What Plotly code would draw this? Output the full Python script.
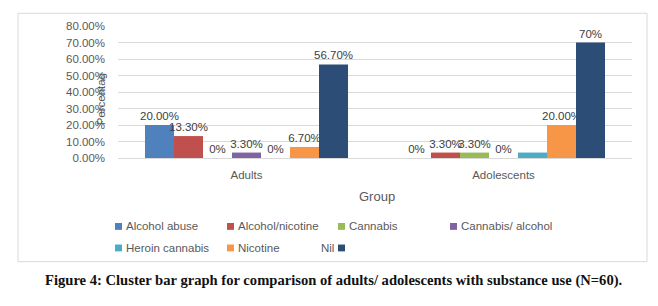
import plotly.graph_objects as go

# ---- data ----
groups = ["Adults", "Adolescents"]
series_names = ["Alcohol abuse", "Alcohol/nicotine", "Cannabis", "Cannabis/ alcohol",
                "Heroin cannabis", "Nicotine", "Nil"]
alcohol_abuse = [0.200, 0.000]
alcohol_nicotine = [0.133, 0.033]
cannabis = [0.000, 0.033]
cannabis_alcohol = [0.033, 0.000]
heroin_cannabis = [0.000, 0.033]
nicotine = [0.067, 0.200]
nil = [0.567, 0.700]

alcohol_abuse_lbl = ["20.00%", "0%"]
alcohol_nicotine_lbl = ["13.30%", "3.30%"]
cannabis_lbl = ["0%", "3.30%"]
cannabis_alcohol_lbl = ["3.30%", "0%"]
heroin_cannabis_lbl = ["0%", ""]
nicotine_lbl = ["6.70%", "20.00%"]
nil_lbl = ["56.70%", "70%"]

y_ticks = [0, 0.1, 0.2, 0.3, 0.4, 0.5, 0.6, 0.7, 0.8]

colors = ["#4F81BD", "#C0504D", "#9BBB59", "#8064A2", "#4BACC6", "#F79646", "#2C4D75"]
values = [alcohol_abuse, alcohol_nicotine, cannabis, cannabis_alcohol,
          heroin_cannabis, nicotine, nil]
labels = [alcohol_abuse_lbl, alcohol_nicotine_lbl, cannabis_lbl, cannabis_alcohol_lbl,
          heroin_cannabis_lbl, nicotine_lbl, nil_lbl]

# page offset of the plot div (default body margin)
OFF = 8
PAGE_W, PAGE_H = 658, 306
W, H = PAGE_W - OFF, PAGE_H - OFF
PX0, PX1, PY0, PY1 = 118, 632, 23, 158  # plot area in page pixels


def px(x):
    return (x - PX0) / (PX1 - PX0)


def py(y):
    return (PY1 - y) / (PY1 - PY0)


FONT = "Liberation Sans, Arial, sans-serif"
GRAY = "#595959"

fig = go.Figure()
for name, vals, lbl, col in zip(series_names, values, labels, colors):
    fig.add_trace(go.Bar(
        name=name, x=groups, y=vals, marker_color=col, marker_line_width=0,
        text=lbl, textposition="outside", constraintext="none", cliponaxis=False,
        textfont=dict(family=FONT, size=11.5, color="#404040"),
        showlegend=False,
    ))

fig.update_layout(
    width=W, height=H,
    margin=dict(l=PX0 - OFF, r=PAGE_W - PX1, t=PY0 - OFF, b=PAGE_H - PY1),
    paper_bgcolor="white", plot_bgcolor="white",
    barmode="group", bargap=0.21, bargroupgap=0,
    font=dict(family=FONT, size=11.5, color=GRAY),
    showlegend=False,
)
fig.update_xaxes(showgrid=False, showline=False, zeroline=False, ticks="",
                 tickfont=dict(size=11.5, color=GRAY), ticklabelstandoff=8)
fig.update_yaxes(range=[0, 0.8], tickvals=y_ticks, tickformat=".2%",
                 showgrid=True, gridcolor="#D9D9D9", gridwidth=1,
                 zeroline=True, zerolinecolor="#D9D9D9", zerolinewidth=1,
                 showline=False, ticks="", ticklabelstandoff=12,
                 tickfont=dict(size=11.5, color=GRAY))

shapes = []
# chart border
shapes.append(dict(type="rect", xref="paper", yref="paper",
                   x0=px(18), x1=px(647), y0=py(10), y1=py(264),
                   line=dict(color="#D9D9D9", width=1), layer="below"))

ann = []
# axis titles
ann.append(dict(text="Percentag", x=px(101), y=py(98), xref="paper", yref="paper",
                textangle=-90, showarrow=False, font=dict(size=11.5, color=GRAY),
                xanchor="center", yanchor="middle"))
ann.append(dict(text="Group", x=px(377), y=py(197), xref="paper", yref="paper",
                showarrow=False, font=dict(size=13, color=GRAY),
                xanchor="center", yanchor="middle"))

# legend (swatch + text)
leg_pos = [(115, 228), (227, 228), (338, 228), (450, 228), (115, 250), (227, 250)]
for (sx, cy), name, col in zip(leg_pos, series_names[:6], colors[:6]):
    shapes.append(dict(type="rect", xref="paper", yref="paper",
                       x0=px(sx), x1=px(sx + 7), y0=py(cy + 3.5), y1=py(cy - 3.5),
                       fillcolor=col, line=dict(width=0)))
    ann.append(dict(text=name, x=px(sx + 9), y=py(cy), xref="paper", yref="paper",
                    showarrow=False, xanchor="left", yanchor="middle",
                    font=dict(size=11.5, color=GRAY)))
# "Nil" entry: text before swatch
ann.append(dict(text=series_names[6], x=px(319), y=py(250), xref="paper", yref="paper",
                showarrow=False, xanchor="left", yanchor="middle",
                font=dict(size=11.5, color=GRAY)))
shapes.append(dict(type="rect", xref="paper", yref="paper",
                   x0=px(338), x1=px(345), y0=py(253.5), y1=py(246.5),
                   fillcolor=colors[6], line=dict(width=0)))

# caption
ann.append(dict(text="<b>Figure 4: Cluster bar graph for comparison of adults/ adolescents with substance use (N=60).</b>",
                x=px(333), y=py(283), xref="paper", yref="paper",
                showarrow=False, xanchor="center", yanchor="middle",
                font=dict(family="Liberation Serif, Times New Roman, serif", size=14.6, color="#111111")))
fig.update_layout(annotations=ann, shapes=shapes)

fig.write_html("out.html")
